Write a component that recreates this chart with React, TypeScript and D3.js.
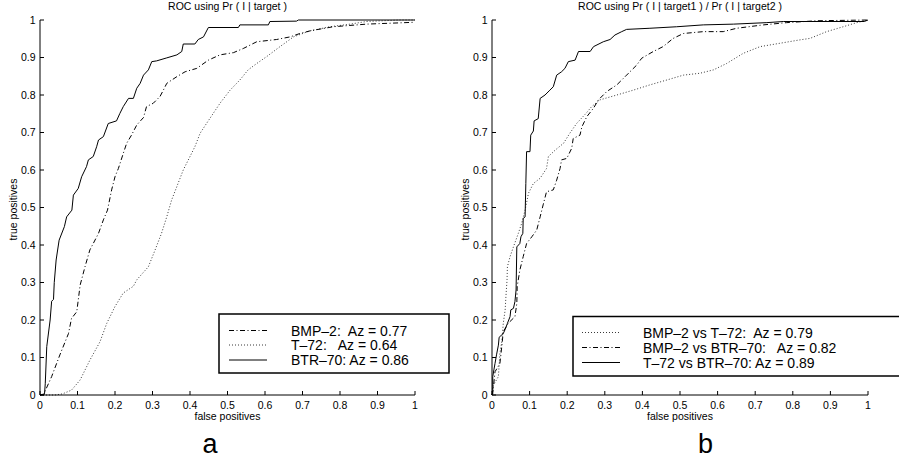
import React from "react";
import * as d3 from "d3";

type Pt = [number, number];

// ---- Panel a: ROC using Pr(I | target) ----
const bmp2A: Pt[] = [[0,0],[0.01,0],[0.013,0.009],[0.031,0.049],[0.053,0.107],[0.076,0.164],[0.084,0.204],[0.098,0.222],[0.102,0.253],[0.107,0.293],[0.12,0.342],[0.133,0.387],[0.142,0.404],[0.156,0.431],[0.169,0.467],[0.18,0.493],[0.191,0.547],[0.2,0.582],[0.209,0.604],[0.222,0.644],[0.231,0.671],[0.244,0.693],[0.258,0.72],[0.276,0.74],[0.284,0.769],[0.302,0.778],[0.32,0.796],[0.329,0.813],[0.338,0.831],[0.365,0.849],[0.387,0.862],[0.418,0.871],[0.449,0.893],[0.48,0.907],[0.516,0.913],[0.542,0.924],[0.578,0.942],[0.631,0.948],[0.667,0.955],[0.693,0.964],[0.72,0.971],[0.782,0.982],[0.871,0.989],[1,0.994]];
const t72A: Pt[] = [[0,0],[0.04,0],[0.06,0.003],[0.084,0.013],[0.107,0.04],[0.133,0.093],[0.16,0.142],[0.178,0.191],[0.2,0.236],[0.222,0.272],[0.249,0.29],[0.258,0.307],[0.289,0.342],[0.307,0.387],[0.324,0.431],[0.338,0.475],[0.351,0.52],[0.365,0.556],[0.382,0.6],[0.4,0.636],[0.413,0.662],[0.427,0.698],[0.444,0.724],[0.462,0.751],[0.48,0.778],[0.507,0.813],[0.533,0.84],[0.555,0.867],[0.578,0.884],[0.604,0.902],[0.64,0.929],[0.676,0.955],[0.72,0.971],[0.773,0.982],[0.827,0.989],[0.871,0.996],[0.96,1],[1,1]];
const btr70A: Pt[] = [[0,0],[0.012,0.003],[0.014,0.03],[0.018,0.129],[0.027,0.2],[0.031,0.25],[0.036,0.255],[0.038,0.3],[0.043,0.36],[0.051,0.413],[0.065,0.449],[0.071,0.475],[0.085,0.493],[0.089,0.533],[0.102,0.551],[0.111,0.582],[0.124,0.609],[0.129,0.627],[0.142,0.636],[0.151,0.662],[0.156,0.68],[0.169,0.689],[0.182,0.724],[0.204,0.731],[0.213,0.751],[0.222,0.769],[0.236,0.791],[0.249,0.791],[0.258,0.818],[0.267,0.831],[0.276,0.853],[0.289,0.867],[0.298,0.889],[0.311,0.891],[0.338,0.899],[0.365,0.907],[0.378,0.916],[0.382,0.936],[0.413,0.936],[0.422,0.948],[0.436,0.955],[0.449,0.98],[0.529,0.98],[0.533,0.987],[0.609,0.987],[0.613,0.996],[0.684,0.997],[0.689,1],[1,1]];

// ---- Panel b: ROC using Pr(I | target1) / Pr(I | target2) ----
const bmp2VsT72: Pt[] = [[0,0],[0.003,0.025],[0.017,0.049],[0.021,0.111],[0.026,0.142],[0.03,0.191],[0.035,0.227],[0.037,0.262],[0.04,0.307],[0.041,0.342],[0.048,0.369],[0.057,0.395],[0.07,0.431],[0.079,0.458],[0.088,0.493],[0.097,0.538],[0.11,0.564],[0.128,0.578],[0.145,0.604],[0.15,0.636],[0.168,0.653],[0.19,0.671],[0.207,0.698],[0.225,0.724],[0.25,0.751],[0.265,0.769],[0.287,0.787],[0.332,0.8],[0.376,0.813],[0.42,0.827],[0.465,0.84],[0.509,0.853],[0.553,0.858],[0.589,0.867],[0.624,0.884],[0.668,0.911],[0.713,0.929],[0.766,0.938],[0.819,0.947],[0.846,0.951],[0.89,0.969],[0.934,0.982],[0.97,0.993],[1,1]];
const bmp2VsBtr70: Pt[] = [[0,0],[0.003,0.013],[0.008,0.062],[0.021,0.084],[0.026,0.129],[0.03,0.169],[0.043,0.191],[0.061,0.209],[0.066,0.244],[0.067,0.289],[0.074,0.333],[0.083,0.369],[0.092,0.404],[0.106,0.422],[0.119,0.44],[0.128,0.475],[0.136,0.507],[0.145,0.542],[0.163,0.547],[0.172,0.573],[0.181,0.604],[0.185,0.627],[0.199,0.631],[0.212,0.658],[0.216,0.684],[0.234,0.693],[0.239,0.715],[0.252,0.742],[0.27,0.765],[0.283,0.787],[0.305,0.809],[0.332,0.827],[0.358,0.853],[0.385,0.88],[0.398,0.898],[0.429,0.916],[0.455,0.929],[0.482,0.951],[0.509,0.964],[0.562,0.969],[0.615,0.969],[0.651,0.978],[0.722,0.987],[0.784,0.993],[0.864,0.998],[1,1]];
const t72VsBtr70: Pt[] = [[0,0],[0.002,0.003],[0.002,0.049],[0.005,0.067],[0.008,0.084],[0.012,0.107],[0.017,0.133],[0.019,0.154],[0.03,0.164],[0.035,0.175],[0.041,0.191],[0.048,0.209],[0.05,0.227],[0.057,0.231],[0.061,0.249],[0.064,0.28],[0.066,0.395],[0.074,0.404],[0.077,0.422],[0.082,0.431],[0.083,0.471],[0.088,0.475],[0.09,0.564],[0.092,0.649],[0.101,0.649],[0.103,0.693],[0.11,0.704],[0.112,0.731],[0.123,0.737],[0.128,0.791],[0.141,0.8],[0.154,0.813],[0.163,0.822],[0.172,0.853],[0.185,0.862],[0.194,0.871],[0.203,0.889],[0.221,0.893],[0.23,0.916],[0.261,0.916],[0.27,0.929],[0.296,0.942],[0.314,0.948],[0.327,0.96],[0.345,0.969],[0.358,0.975],[0.42,0.978],[0.491,0.982],[0.562,0.987],[0.642,0.989],[0.731,0.993],[0.775,0.996],[0.99,0.996],[1,1]];

const tickValues = [0, 0.1, 0.2, 0.3, 0.4, 0.5, 0.6, 0.7, 0.8, 0.9, 1];
const titles = ["ROC using Pr ( I | target )", "ROC using Pr ( I | target1 ) / Pr ( I | target2 )"];
const legendA = ["BMP\u20132:  Az = 0.77", "T\u201372:   Az = 0.64", "BTR\u201370: Az = 0.86"];
const legendB = ["BMP\u20132 vs T\u201372:  Az = 0.79", "BMP\u20132 vs BTR\u201370:   Az = 0.82", "T\u201372 vs BTR\u201370: Az = 0.89"];
const panelLetters = ["a", "b"];

const FONT = "'Liberation Sans', Arial, Helvetica, sans-serif";
const STYLES: Record<string, { dash?: string; width: number; color: string }> = {
  solid: { width: 1, color: "#000" },
  dashdot: { dash: "5,2.5,1,2.5", width: 1, color: "#000" },
  dotted: { dash: "1,2", width: 0.9, color: "#222" },
};

type Series = { data: Pt[]; style: string };
type PanelProps = {
  xRange: [number, number];
  title: string;
  series: Series[];
  legendLabels: string[];
  legendStyles: string[];
  legendBox: { x: number; y: number; w: number; h: number };
  legendLineX: [number, number];
  legendTextX: number;
  legendBaselines: number[];
  letter: string;
  letterX: number;
};

const yScale = d3.scaleLinear().domain([0, 1]).range([395, 20]);
const fmt = (d: number) => String(+d.toFixed(1));

function Panel(p: PanelProps) {
  const x = d3.scaleLinear().domain([0, 1]).range(p.xRange);
  const y = yScale;
  const line = d3.line<Pt>().x((d) => x(d[0])).y((d) => y(d[1]));
  const x0 = p.xRange[0];
  const xMid = (p.xRange[0] + p.xRange[1]) / 2;
  const yMid = (y(0) + y(1)) / 2;
  return (
    <g fontFamily={FONT} fill="#000">
      <text x={xMid} y={10} fontSize={10.5} textAnchor="middle">{p.title}</text>
      {p.series.map((s, i) => {
        const st = STYLES[s.style];
        return (
          <path key={i} d={line(s.data) || ""} fill="none" stroke={st.color}
            strokeWidth={st.width} strokeDasharray={st.dash} />
        );
      })}
      {/* axes */}
      <line x1={x0} x2={x0} y1={y(0)} y2={y(1)} stroke="#000" strokeWidth={1} />
      <line x1={x0} x2={x(1)} y1={y(0)} y2={y(0)} stroke="#000" strokeWidth={1} />
      {tickValues.map((t) => (
        <g key={"x" + t}>
          <line x1={x(t)} x2={x(t)} y1={y(0)} y2={y(0) - 4} stroke="#000" />
          <text x={x(t)} y={408.5} fontSize={10.5} textAnchor="middle">{fmt(t)}</text>
        </g>
      ))}
      {tickValues.map((t) => (
        <g key={"y" + t}>
          <line x1={x0} x2={x0 + 4} y1={y(t)} y2={y(t)} stroke="#000" />
          <text x={x0 - 4.5} y={y(t) + 3.7} fontSize={10.5} textAnchor="end">{fmt(t)}</text>
        </g>
      ))}
      <text x={xMid} y={420} fontSize={10.5} textAnchor="middle">false positives</text>
      <text transform={`translate(${x0 - 23.5},${yMid + 2}) rotate(-90)`} fontSize={10.5} textAnchor="middle">true positives</text>
      {/* legend */}
      <rect x={p.legendBox.x} y={p.legendBox.y} width={p.legendBox.w} height={p.legendBox.h}
        fill="#fff" stroke="#000" strokeWidth={1.5} />
      {p.legendLabels.map((lab, i) => {
        const st = STYLES[p.legendStyles[i]];
        const by = p.legendBaselines[i];
        return (
          <g key={lab}>
            <line x1={p.legendLineX[0]} x2={p.legendLineX[1]} y1={by - 5} y2={by - 5}
              stroke={st.color} strokeWidth={st.width} strokeDasharray={st.dash} />
            <text x={p.legendTextX} y={by} fontSize={14} style={{ whiteSpace: "pre" }}>{lab}</text>
          </g>
        );
      })}
      <text x={p.letterX} y={453} fontSize={27} textAnchor="middle">{p.letter}</text>
    </g>
  );
}

export default function App() {
  return (
    <svg width={899} height={458} style={{ position: "absolute", left: 0, top: 0, background: "#fff" }}>
      <rect x={0} y={0} width={899} height={458} fill="#fff" />
      <Panel
        xRange={[40, 415]}
        title={titles[0]}
        series={[
          { data: t72A, style: "dotted" },
          { data: bmp2A, style: "dashdot" },
          { data: btr70A, style: "solid" },
        ]}
        legendLabels={legendA}
        legendStyles={["dashdot", "dotted", "solid"]}
        legendBox={{ x: 219, y: 314, w: 230, h: 59 }}
        legendLineX={[229, 267]}
        legendTextX={291}
        legendBaselines={[335.5, 350, 365]}
        letter={panelLetters[0]}
        letterX={210}
      />
      <Panel
        xRange={[492, 868]}
        title={titles[1]}
        series={[
          { data: bmp2VsT72, style: "dotted" },
          { data: bmp2VsBtr70, style: "dashdot" },
          { data: t72VsBtr70, style: "solid" },
        ]}
        legendLabels={legendB}
        legendStyles={["dotted", "dashdot", "solid"]}
        legendBox={{ x: 573, y: 316.5, w: 340, h: 59.5 }}
        legendLineX={[582, 620]}
        legendTextX={643}
        legendBaselines={[337.5, 352.5, 367.5]}
        letter={panelLetters[1]}
        letterX={705.5}
      />
    </svg>
  );
}
